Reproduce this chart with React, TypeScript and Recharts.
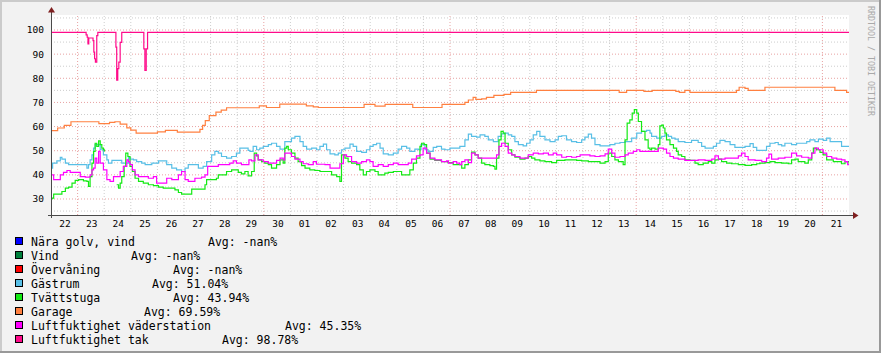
import React from 'react'
import { LineChart, Line, XAxis, YAxis, ReferenceLine, ReferenceArea } from 'recharts'

// time axis is in days from the left edge of the graph, values in %
type Pt = [number, number | null]

const DAY_LABELS = [
    '22', '23', '24', '25', '26', '27', '28', '29', '30',
    '01', '02', '03', '04', '05', '06', '07', '08', '09', '10',
    '11', '12', '13', '14', '15', '16', '17', '18', '19', '20', '21',
]
const Y_LABELS = [30, 40, 50, 60, 70, 80, 90, 100]
const Y_MINOR = [25, 35, 45, 55, 65, 75, 85, 95, 105]
const WEEK_LINES = [1, 8, 15, 22, 29]

const LEGEND_NAMES = [
    'Nära golv, vind', 'Vind', 'Övervåning', 'Gästrum', 'Tvättstuga',
    'Garage', 'Luftfuktighet väderstation', 'Luftfuktighet tak',
]
const LEGEND_AVGS = ['-nan%', '-nan%', '-nan%', '51.04%', '43.94%', '69.59%', '45.35%', '98.78%']

const GASTRUM: Pt[] = [
    [0, 42.8], [0.06, 44.9], [0.22, 45.8], [0.35, 47.2], [0.41, 46.5], [0.54, 44.9], [0.66, 44.2], [1.35, 42.8],
    [1.41, 44.2], [1.47, 46.2], [1.54, 48.3], [1.6, 51.1], [1.66, 52.5], [1.85, 50.4], [1.97, 48.3], [2.1, 46.2],
    [2.16, 44.9], [2.29, 46.0], [2.66, 44.9], [2.91, 47.2], [2.97, 46.5], [3.1, 46.2], [3.22, 45.5], [3.41, 44.9],
    [3.54, 44.2], [3.79, 44.9], [4.04, 45.8], [4.35, 44.2], [4.54, 42.8], [4.72, 42.1], [4.91, 41.4], [5.04, 42.8],
    [5.16, 44.2], [5.54, 42.8], [5.72, 43.5], [5.85, 45.5], [6.04, 48.3], [6.16, 49.7], [6.29, 49.0], [6.41, 47.6],
    [6.6, 46.9], [6.79, 47.6], [6.97, 49.0], [7.1, 51.1], [7.41, 50.1], [7.48, 49.7], [7.6, 51.8], [7.73, 50.4],
    [7.85, 51.1], [7.98, 51.8], [8.17, 52.5], [8.29, 53.1], [8.48, 51.8], [8.61, 50.7], [8.79, 53.8], [9.04, 55.2],
    [9.17, 55.9], [9.36, 53.8], [9.48, 51.8], [9.61, 50.7], [9.8, 51.1], [9.98, 50.4], [10.11, 51.8], [10.24, 52.7],
    [10.36, 50.4], [10.49, 48.7], [10.67, 48.3], [10.8, 49.0], [10.92, 50.4], [11.05, 51.1], [11.24, 52.7], [11.36, 51.8],
    [11.49, 49.7], [11.68, 49.3], [11.86, 50.4], [11.99, 51.8], [12.11, 52.5], [12.24, 53.1], [12.37, 51.1], [12.49, 48.7],
    [12.68, 48.3], [12.87, 49.0], [13.05, 50.7], [13.18, 51.8], [13.37, 51.1], [13.49, 49.7], [13.68, 50.7], [13.81, 50.4],
    [13.91, 52.5], [14.06, 50.4], [14.18, 49.7], [14.37, 51.4], [14.5, 51.8], [14.68, 50.7], [14.81, 50.4], [15.0, 51.1],
    [15.37, 51.8], [15.56, 54.5], [15.69, 56.9], [15.81, 55.9], [16.0, 55.6], [16.13, 56.6], [16.31, 55.9], [16.44, 54.5],
    [16.63, 53.8], [16.81, 55.9], [16.94, 57.0], [17.07, 57.3], [17.19, 56.6], [17.32, 55.9], [17.44, 53.8], [17.57, 52.5],
    [17.75, 52.0], [17.88, 53.1], [18.01, 54.5], [18.13, 56.6], [18.26, 58.0], [18.38, 55.9], [18.57, 54.5], [18.76, 53.8],
    [18.95, 54.5], [19.07, 55.9], [19.2, 56.2], [19.38, 54.5], [19.57, 53.8], [19.76, 53.4], [19.95, 54.5], [20.07, 55.6],
    [20.2, 56.9], [20.32, 55.2], [20.45, 52.5], [20.64, 52.0], [21.01, 52.5], [21.2, 53.1], [21.39, 53.4], [21.58, 53.8],
    [21.83, 55.2], [22.02, 57.3], [22.2, 58.0], [22.39, 58.4], [22.52, 57.3], [22.58, 55.9], [22.77, 55.2], [22.96, 55.9],
    [23.08, 56.6], [23.21, 55.9], [23.33, 55.2], [23.46, 54.8], [23.58, 53.8], [23.83, 53.4], [24.08, 54.3], [24.33, 53.4],
    [24.46, 51.8], [24.59, 51.1], [24.9, 51.8], [25.02, 53.1], [25.15, 54.3], [25.34, 53.8], [25.53, 52.5], [25.71, 51.4],
    [26.09, 51.8], [26.28, 52.9], [26.4, 51.4], [26.53, 50.1], [26.9, 51.8], [27.03, 53.1], [27.22, 53.4], [27.34, 52.5],
    [27.47, 52.0], [27.59, 53.1], [27.84, 52.5], [28.03, 53.1], [28.41, 53.8], [28.53, 54.5], [28.72, 53.8], [28.85, 54.8],
    [29.03, 54.3], [29.16, 55.2], [29.29, 53.8], [29.72, 51.8], [30, 51.8],
]

const TVATTSTUGA: Pt[] = [
    [0, 30.0], [0.04, 30.4], [0.1, 32.0], [0.41, 33.1], [0.54, 34.5], [0.66, 34.9], [0.79, 36.6], [0.91, 37.7],
    [1.04, 38.0], [1.22, 37.5], [1.35, 37.3], [1.41, 35.2], [1.47, 39.3], [1.54, 44.9], [1.6, 49.7], [1.66, 53.1],
    [1.72, 51.8], [1.79, 54.1], [1.85, 52.5], [1.91, 51.1], [1.97, 50.4], [2.01, 49.7], [2.06, null], [2.47, 35.9],
    [2.54, 34.5], [2.6, 36.6], [2.66, 39.3], [2.75, 43.5], [2.81, 49.0], [2.89, 47.6], [2.97, 43.5], [3.06, 41.4],
    [3.16, 38.6], [3.29, 37.3], [3.47, 36.6], [3.66, 35.9], [3.85, 35.5], [4.04, 34.9], [4.22, 34.5], [4.66, 33.8],
    [4.79, 32.7], [4.91, 32.0], [5.29, 34.1], [5.79, 35.9], [5.85, 38.0], [6.22, 38.6], [6.29, 40.0], [6.6, 41.4],
    [6.79, 42.1], [7.04, 41.0], [7.16, 40.4], [7.29, 41.4], [7.41, 39.6], [7.54, 41.4], [7.64, 49.0], [7.73, 47.9],
    [7.79, 46.2], [7.92, 45.5], [8.04, 44.9], [8.17, 44.2], [8.29, 42.8], [8.48, 44.2], [8.61, 46.2], [8.73, 44.9],
    [8.79, 51.1], [8.86, 51.8], [8.92, 50.4], [9.04, 49.0], [9.17, 46.9], [9.29, 45.5], [9.42, 43.8], [9.55, 42.8],
    [9.73, 42.1], [9.92, 41.8], [10.11, 41.4], [10.55, 40.0], [10.74, 39.3], [10.86, 37.3], [10.92, 48.3], [11.05, 46.9],
    [11.17, 45.5], [11.3, 44.9], [11.49, 44.2], [11.61, 42.1], [11.74, 40.0], [11.86, 41.4], [11.99, 42.1], [12.18, 41.4],
    [12.3, 40.0], [12.55, 40.7], [12.68, 41.0], [12.87, 41.4], [13.18, 40.0], [13.49, 42.1], [13.62, 44.9], [13.74, 46.9],
    [13.87, 51.8], [13.93, 53.1], [14.03, 52.5], [14.12, 49.0], [14.25, 46.5], [14.43, 46.0], [14.68, 45.5], [14.93, 45.1],
    [15.12, 44.2], [15.44, 42.8], [15.56, 44.2], [15.69, 46.2], [15.81, 49.4], [15.94, 48.3], [16.06, 46.9], [16.19, 44.9],
    [16.31, 44.2], [16.5, 43.8], [16.63, 43.5], [16.69, 42.4], [16.75, 46.9], [16.84, 54.5], [16.92, 58.0], [17.0, 57.3],
    [17.07, 53.1], [17.19, 50.4], [17.32, 48.3], [17.44, 47.3], [17.63, 46.5], [17.82, 46.9], [17.94, 47.6], [18.07, 46.9],
    [18.19, 46.2], [18.38, 45.8], [18.57, 45.5], [18.82, 45.1], [19.01, 46.0], [19.32, 46.2], [19.76, 46.0], [19.95, 45.8],
    [20.2, 45.5], [20.64, 44.9], [20.83, 45.5], [20.95, 49.0], [21.08, 47.6], [21.2, 46.2], [21.33, 45.5], [21.51, 44.2],
    [21.58, 54.5], [21.66, 61.4], [21.76, 62.8], [21.85, 65.6], [21.93, 67.0], [22.02, 65.6], [22.08, 62.1], [22.2, 58.0],
    [22.33, 54.5], [22.45, 51.1], [22.52, 50.4], [22.58, 51.1], [22.71, 50.7], [22.83, 52.5], [22.89, 60.3], [22.96, 60.6],
    [23.02, 59.4], [23.08, 57.3], [23.14, 54.5], [23.27, 52.5], [23.4, 51.1], [23.52, 49.7], [23.58, 48.3], [23.71, 47.6],
    [23.83, 46.2], [24.02, 46.0], [24.21, 44.9], [24.33, 44.2], [24.52, 44.9], [24.71, 45.5], [24.84, 44.9], [24.96, 46.2],
    [25.09, 46.5], [25.21, 45.5], [25.4, 44.9], [25.59, 44.6], [25.84, 44.2], [26.09, 43.9], [26.34, 44.2], [26.53, 44.6],
    [26.65, 44.9], [26.84, 45.1], [27.03, 45.5], [27.22, 45.1], [27.47, 44.9], [27.72, 44.6], [27.84, 46.2], [27.97, 46.5],
    [28.09, 45.5], [28.34, 44.9], [28.47, 46.2], [28.6, 49.0], [28.66, 51.1], [28.78, 50.4], [28.91, 49.3], [29.03, 48.3],
    [29.16, 46.2], [29.41, 45.5], [29.72, 44.6], [29.85, 45.5], [30, 44.6],
]

const GARAGE: Pt[] = [
    [0, 58.3], [0.25, 59.4], [0.5, 60.5], [0.75, 62.0], [1.8, 61.2], [2.2, 61.7], [2.4, 62.0], [2.6, 61.0],
    [2.85, 59.5], [3.0, 58.5], [3.2, 57.3], [4.0, 57.8], [4.3, 58.4], [4.75, 57.7], [5.6, 58.8], [5.7, 60.5],
    [5.8, 62.5], [5.95, 64.5], [6.2, 66.0], [6.4, 66.8], [6.6, 67.8], [7.83, 68.6], [8.1, 67.9], [8.6, 69.3],
    [9.6, 68.6], [9.86, 68.2], [10.05, 67.9], [11.77, 69.2], [12.18, 68.5], [12.56, 69.2], [13.6, 67.9], [14.7, 69.2],
    [15.56, 70.0], [15.69, 71.0], [15.87, 72.1], [15.97, 71.3], [16.19, 71.5], [16.37, 72.1], [16.65, 72.9], [17.03, 73.3],
    [17.28, 74.2], [18.25, 75.0], [21.36, 74.2], [21.64, 75.0], [22.29, 74.6], [22.6, 75.0], [23.49, 74.6], [23.62, 74.2],
    [23.83, 75.0], [24.02, 74.2], [25.77, 75.0], [25.87, 76.3], [26.09, 75.8], [26.21, 75.0], [26.84, 76.3], [29.47, 75.0],
    [29.91, 74.2], [30, 74.2],
]

const VADERSTATION: Pt[] = [
    [0, 40.0], [0.1, 38.0], [0.35, 40.0], [0.47, 41.0], [0.6, 41.8], [0.72, 41.0], [1.1, 39.3], [1.29, 39.1],
    [1.47, 40.0], [1.54, 42.1], [1.6, 42.8], [1.66, 46.9], [1.72, 44.9], [1.79, 49.7], [1.85, 44.9], [1.97, 42.1],
    [2.1, 38.0], [2.22, 37.3], [2.35, 39.3], [2.6, 41.4], [2.72, 43.5], [2.85, 46.2], [2.91, 45.5], [2.97, 44.2],
    [3.06, 42.1], [3.16, 40.0], [3.29, 39.3], [3.66, 38.6], [3.85, 39.3], [3.97, 36.6], [4.35, 38.6], [4.54, 38.0],
    [4.79, 40.0], [4.91, 41.4], [5.04, 38.0], [5.16, 37.3], [5.41, 38.6], [5.66, 39.1], [5.79, 40.0], [5.89, 43.5],
    [6.29, 44.2], [6.72, 44.9], [6.85, 45.8], [6.97, 44.9], [7.16, 44.2], [7.44, 46.2], [7.54, 45.8], [7.67, 48.3],
    [7.79, 46.2], [7.98, 45.5], [8.17, 44.9], [8.48, 46.0], [8.61, 46.9], [8.73, 46.2], [8.79, 49.0], [9.04, 47.6],
    [9.17, 46.5], [9.36, 45.5], [9.48, 44.6], [9.67, 44.2], [9.86, 45.5], [9.98, 44.4], [10.3, 44.2], [10.49, 42.8],
    [10.86, 44.6], [10.99, 48.3], [11.11, 47.6], [11.3, 45.5], [11.49, 44.9], [11.68, 45.5], [11.86, 46.2], [11.99, 45.5],
    [12.11, 43.5], [12.3, 44.2], [12.49, 43.5], [12.68, 44.2], [12.87, 44.9], [13.05, 44.2], [13.43, 44.9], [13.56, 46.5],
    [13.74, 47.9], [13.87, 48.3], [13.99, 51.1], [14.12, 49.0], [14.25, 46.9], [14.43, 46.2], [14.68, 45.5], [14.87, 45.8],
    [14.94, 44.9], [15.12, 45.5], [15.25, 44.9], [15.37, 44.2], [15.44, 45.5], [15.56, 46.2], [15.69, 45.1], [15.81, 49.0],
    [15.94, 48.3], [16.06, 46.9], [16.75, 48.3], [16.84, 51.8], [16.94, 53.1], [17.07, 51.8], [17.19, 49.0], [17.32, 48.3],
    [17.44, 47.6], [17.63, 46.9], [17.94, 48.3], [18.13, 49.0], [18.32, 48.7], [18.51, 49.0], [18.7, 48.3], [18.88, 49.0],
    [19.01, 48.3], [19.2, 47.3], [19.38, 47.6], [19.57, 47.3], [19.76, 47.6], [19.89, 48.3], [20.26, 47.9], [20.45, 47.6],
    [20.64, 47.9], [20.83, 48.7], [20.95, 50.7], [21.08, 49.0], [21.2, 47.3], [21.39, 47.6], [21.58, 48.3], [21.7, 49.0],
    [21.89, 49.7], [22.02, 50.4], [22.14, 49.7], [22.83, 51.1], [23.02, 50.7], [23.14, 49.0], [23.27, 47.6], [23.4, 46.9],
    [23.58, 46.5], [23.83, 46.0], [24.33, 46.2], [24.59, 46.0], [24.84, 46.5], [24.96, 47.9], [25.09, 46.5], [25.34, 46.9],
    [25.84, 47.9], [25.96, 49.0], [26.09, 47.6], [26.21, 46.2], [26.47, 46.0], [26.72, 45.5], [26.9, 46.9], [26.99, 48.6],
    [27.09, 46.5], [27.34, 46.9], [27.59, 47.3], [27.84, 49.0], [28.03, 47.9], [28.22, 47.3], [28.47, 46.9], [28.6, 49.0],
    [28.72, 51.1], [28.85, 50.4], [29.03, 49.0], [29.16, 47.6], [29.35, 46.9], [29.54, 46.5], [29.72, 46.2], [29.85, 45.5],
    [29.95, 44.2], [30, 44.2],
]

const TAK: Pt[] = [
    [0, 99.0], [1.32, 98.0], [1.36, 97.0], [1.39, 94.2], [1.42, 96.7], [1.58, 95.6], [1.61, 90.8], [1.64, 88.1],
    [1.67, 86.7], [1.72, 97.7], [1.76, 99.0], [2.44, 92.9], [2.47, 79.2], [2.51, 84.0], [2.55, 86.7], [2.6, 94.9],
    [2.66, 99.0], [3.49, 92.2], [3.53, 83.3], [3.58, 92.2], [3.63, 99.0], [30, 99.0],
]

const COLORS = ['#0000ff', '#00803c', '#ff0000', '#58bfe6', '#14ea14', '#ff8040', '#ff00ff', '#ff0a8a']
const AVG_X = [208, 131, 173, 152, 173, 144, 285, 222]

const FONT = '"DejaVu Sans Mono", monospace'
const Y_MIN = 23.37
const Y_MAX = 106.22

const toRows = (pts: Pt[]) => pts.map(([t, v]) => ({ t, v }))

const SERIES = [
    { rows: toRows(GASTRUM), color: COLORS[3] },
    { rows: toRows(TVATTSTUGA), color: COLORS[4] },
    { rows: toRows(GARAGE), color: COLORS[5] },
    { rows: toRows(VADERSTATION), color: COLORS[6] },
    { rows: toRows(TAK), color: COLORS[7] },
]

const dayTicks = DAY_LABELS.map((_, i) => i + 0.53)
const dayLines = Array.from({ length: 29 }, (_, i) => i + 1)

export default function App() {
    return (
        <div style={{ position: 'absolute', left: 0, top: 0, width: 881, height: 353, background: '#f2f2f2', fontFamily: FONT }}>
            <LineChart width={881} height={240} margin={{ top: 15, right: 32, bottom: 5, left: 11 }}>
                <ReferenceArea x1={0} x2={30} y1={Y_MIN} y2={Y_MAX} fill="#ffffff" fillOpacity={1} stroke="none" ifOverflow="extendDomain" />
                {Y_MINOR.map(v => (
                    <ReferenceLine key={'ym' + v} y={v} stroke="#cdcdcd" strokeDasharray="1 2" />
                ))}
                {dayLines.filter(d => !WEEK_LINES.includes(d)).map(d => (
                    <ReferenceLine key={'xm' + d} x={d} stroke="#cdcdcd" strokeDasharray="1 2" />
                ))}
                {Y_LABELS.map(v => (
                    <ReferenceLine key={'yM' + v} y={v} stroke="#e8a2a2" strokeDasharray="1 2" />
                ))}
                {WEEK_LINES.map(d => (
                    <ReferenceLine key={'xM' + d} x={d} stroke="#e8a2a2" strokeDasharray="1 2" />
                ))}
                <XAxis
                    type="number"
                    dataKey="t"
                    domain={[0, 30]}
                    allowDataOverflow
                    ticks={dayTicks}
                    interval={0}
                    tickFormatter={(_v, i) => DAY_LABELS[i]}
                    axisLine={false}
                    tickLine={false}
                    tickSize={3}
                    tickMargin={2}
                    height={20}
                    tick={{ fontSize: 9.5, fill: '#000', fontFamily: FONT }}
                />
                <YAxis
                    type="number"
                    domain={[Y_MIN, Y_MAX]}
                    allowDataOverflow
                    ticks={Y_LABELS}
                    interval={0}
                    axisLine={false}
                    tickLine={false}
                    tickSize={5}
                    tickMargin={2}
                    width={40}
                    tick={{ fontSize: 9.5, fill: '#000', fontFamily: FONT }}
                />
                {SERIES.map((s, i) => (
                    <Line
                        key={i}
                        data={s.rows}
                        dataKey="v"
                        type="stepAfter"
                        dot={false}
                        activeDot={false}
                        stroke={s.color}
                        strokeWidth={1.2}
                        connectNulls={false}
                        isAnimationActive={false}
                    />
                ))}
            </LineChart>

            <svg width={881} height={353} style={{ position: 'absolute', left: 0, top: 0, pointerEvents: 'none' }}>
                {/* frame */}
                <rect x={0} y={0} width={881} height={2} fill="#cbcbcb" />
                <rect x={0} y={0} width={2} height={353} fill="#cbcbcb" />
                <rect x={879} y={0} width={2} height={353} fill="#999999" />
                <rect x={0} y={351} width={881} height={2} fill="#999999" />

                {/* axes with arrows */}
                <line x1={51.5} y1={218} x2={51.5} y2={11} stroke="#4a4a4a" strokeWidth={1} />
                <line x1={48} y1={215.5} x2={853} y2={215.5} stroke="#4a4a4a" strokeWidth={1} />
                <polygon points="48,12.5 55,12.5 51.5,7" fill="#7f1f1f" />
                <polygon points="853,212 853,219 858.5,215.5" fill="#7f1f1f" />

                {/* watermark */}
                <text transform="translate(868,6) rotate(90)" fontSize={8.3} fill="#a9a9a9" fontFamily={FONT}>
                    RRDTOOL / TOBI OETIKER
                </text>

                {/* legend */}
                {LEGEND_NAMES.map((name, i) => (
                    <g key={name}>
                        <rect x={15.5} y={237.5 + 14 * i} width={7} height={7} fill={COLORS[i]} stroke="#000" strokeWidth={1} />
                        <text x={31} y={245.5 + 14 * i} fontSize={11.5} fontFamily={FONT} fill="#000" style={{ whiteSpace: 'pre' }}>
                            {name}
                        </text>
                        <text x={AVG_X[i]} y={245.5 + 14 * i} fontSize={11.5} fontFamily={FONT} fill="#000">
                            {'Avg: ' + LEGEND_AVGS[i]}
                        </text>
                    </g>
                ))}
            </svg>
        </div>
    )
}
